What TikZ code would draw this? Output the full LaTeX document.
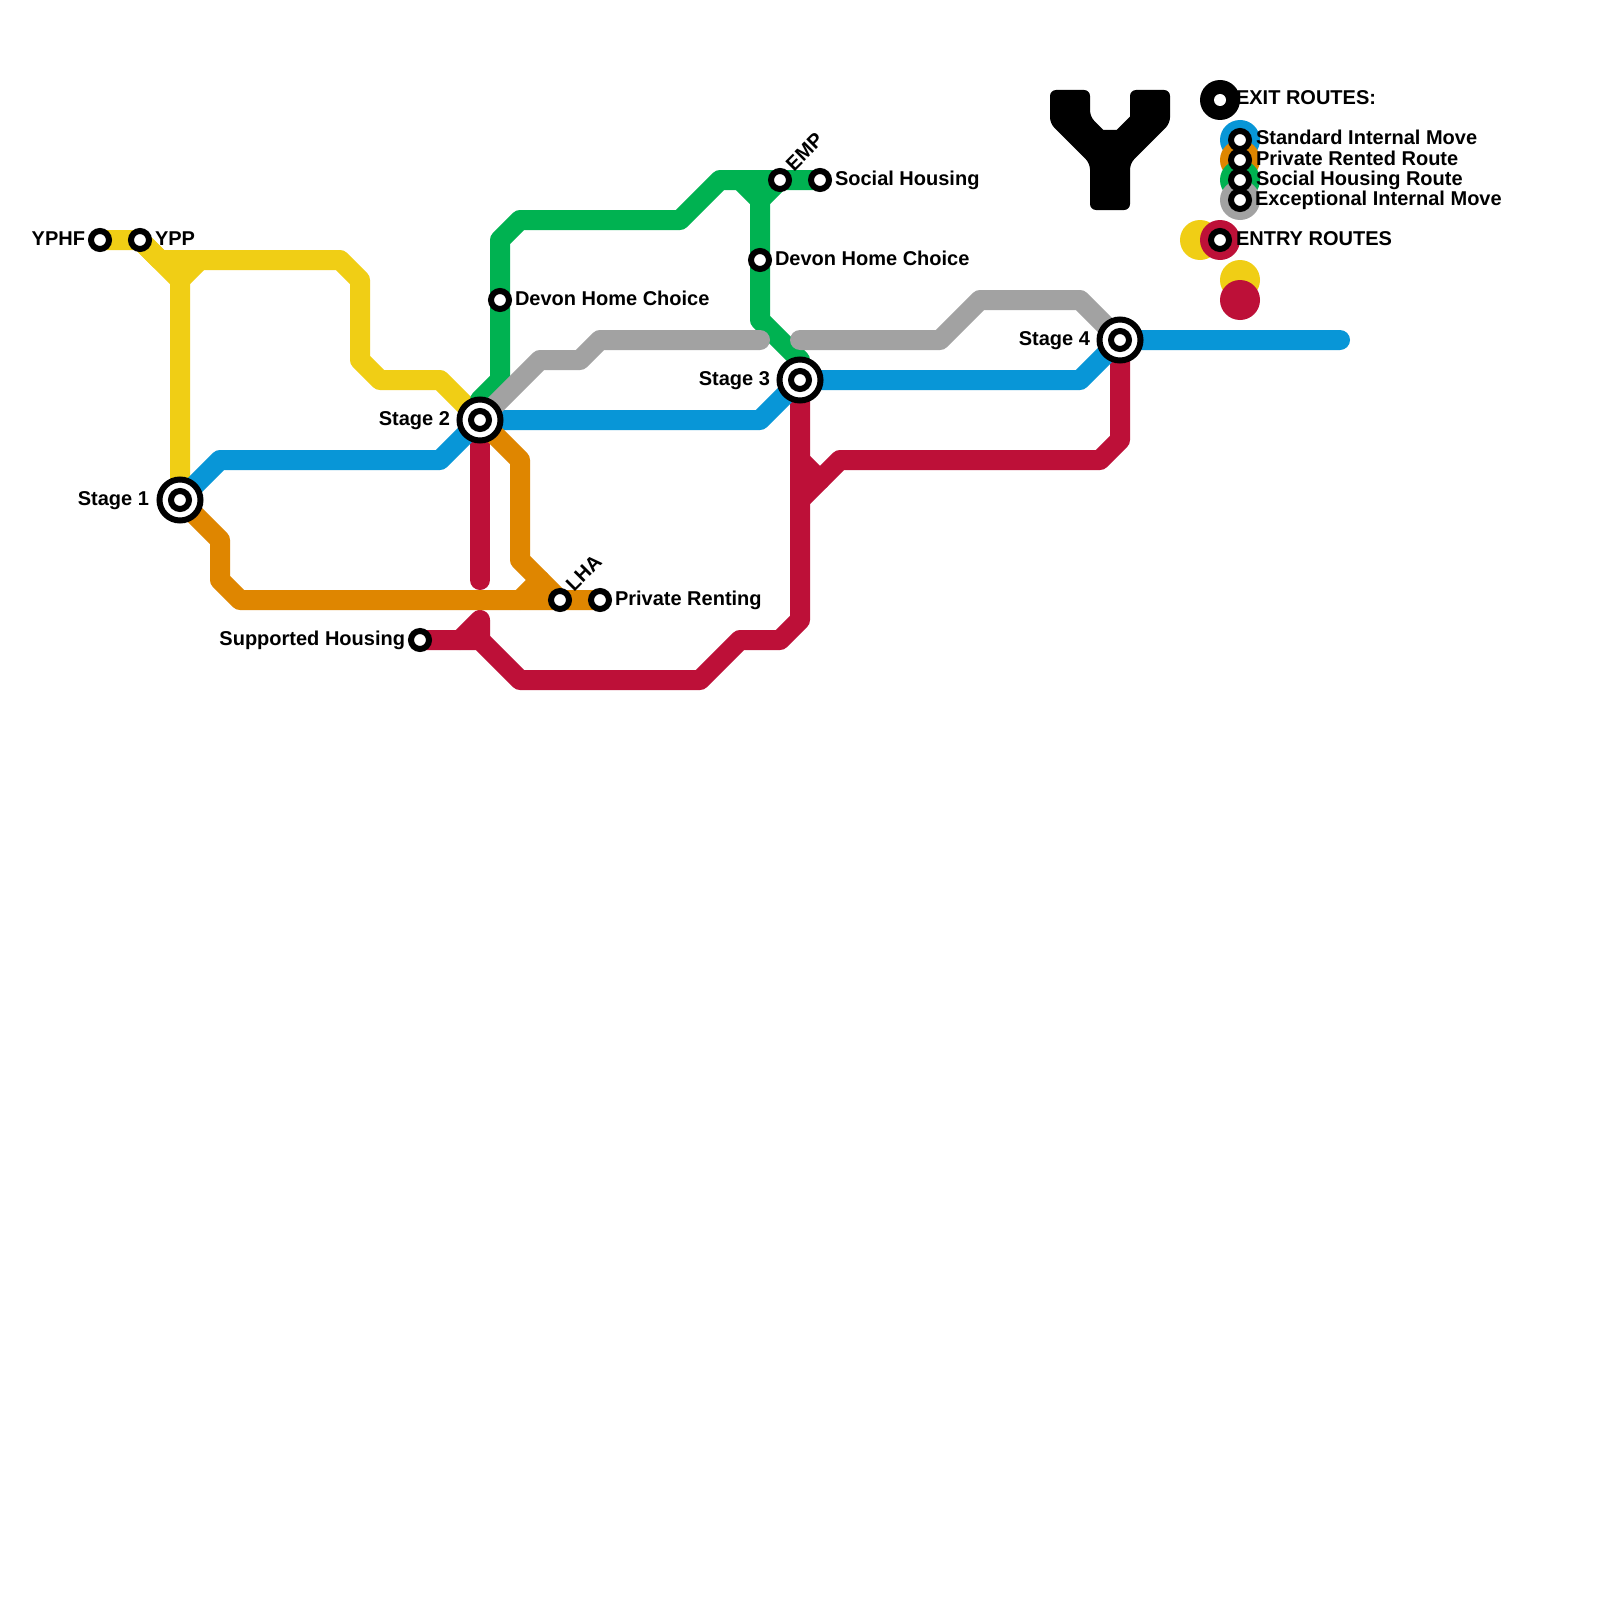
\documentclass[tikz,border=0pt]{standalone}
\usepackage{fontspec}
\setmainfont{Liberation Sans}
\pgfdeclarelayer{routes}
\pgfsetlayers{routes,main}
\definecolor{cyellow}{HTML}{F0CE15}
\definecolor{cblue}{HTML}{0896D7}
\definecolor{corange}{HTML}{DF8600}
\definecolor{cgreen}{HTML}{00B251}
\definecolor{cgray}{HTML}{A2A2A2}
\definecolor{cred}{HTML}{BD1038}
\tikzset{
  route/.style={line width=20pt,line cap=round,line join=round,draw=#1},
  smallst/.style={circle,draw=black,fill=white,line width=6pt,inner sep=0pt,outer sep=0pt,minimum size=18pt},
  bigst/.style={circle,draw=black,fill=white,line width=6pt,inner sep=0pt,outer sep=0pt,minimum size=41pt},
  legdot/.style={circle,fill=#1,inner sep=0pt,outer sep=0pt,minimum size=40pt},
  lab/.style={inner sep=0pt,outer sep=0pt,font=\bfseries\fontsize{20}{22}\selectfont,text=black},
  labw/.style={lab,anchor=base west},
  labe/.style={lab,anchor=base east},
  labr/.style={lab,anchor=base west,rotate=45}
}
\begin{document}
\begin{tikzpicture}[x=1pt,y=-1pt]
\useasboundingbox (0,0) rectangle (1600,1600);
% stations
\node[bigst] (s1) at (180,500) {};
\node[smallst] (s1i) at (180,500) {};
\node[bigst] (s2) at (480,420) {};
\node[smallst] (s2i) at (480,420) {};
\node[bigst] (s3) at (800,380) {};
\node[smallst] (s3i) at (800,380) {};
\node[bigst] (s4) at (1120,340) {};
\node[smallst] (s4i) at (1120,340) {};
\node[smallst] (yphf) at (100,240) {};
\node[smallst] (ypp) at (140,240) {};
\node[smallst] (dhc1) at (500,300) {};
\node[smallst] (dhc2) at (760,260) {};
\node[smallst] (emp) at (780,180) {};
\node[smallst] (soc) at (820,180) {};
\node[smallst] (lha) at (560,600) {};
\node[smallst] (prv) at (600,600) {};
\node[smallst] (sup) at (420,640) {};
\coordinate (blueend) at (1340,340);
\coordinate (redend) at (480,580);
\coordinate (redtop) at (480,620);
\coordinate (grayend1) at (760,340);
\coordinate (graystart2) at (800,340);
% routes
\begin{pgfonlayer}{routes}
\fill[white] (0,0) rectangle (1600,1600);
\draw[route=cyellow] (yphf.center) -- (ypp.center) -- (180,280) -- (s1.center);
\draw[route=cyellow] (ypp.center) -- (160,260) -- (340,260) -- (360,280) -- (360,360) -- (380,380) -- (440,380) -- (s2.center);
\draw[route=cyellow] (180,280) -- (200,260);
\draw[route=cred] (s2.center) -- (redend);
\draw[route=cred] (sup.center) -- (480,640) -- (520,680) -- (700,680) -- (740,640) -- (780,640) -- (800,620) -- (s3.center);
\draw[route=cred] (460,640) -- (redtop) -- (480,640);
\draw[route=cred] (800,460) -- (820,480);
\draw[route=cred] (800,500) -- (840,460) -- (1100,460) -- (1120,440) -- (s4.center);
\draw[route=cblue] (s1.center) -- (220,460) -- (440,460) -- (s2.center) -- (760,420) -- (s3.center) -- (1080,380) -- (s4.center) -- (blueend);
\draw[route=corange] (s1.center) -- (220,540) -- (220,580) -- (240,600) -- (prv.center);
\draw[route=corange] (s2.center) -- (520,460) -- (520,560) -- (lha.center);
\draw[route=corange] (520,600) -- (540,580);
\draw[route=cgreen] (s2.center) -- (480,400) -- (500,380) -- (500,240) -- (520,220) -- (680,220) -- (720,180) -- (soc.center);
\draw[route=cgreen] (740,180) -- (760,200) -- (760,320) -- (800,360) -- (s3.center);
\draw[route=cgreen] (760,200) -- (780,180);
\draw[route=cgray] (s2.center) -- (540,360) -- (580,360) -- (600,340) -- (grayend1);
\draw[route=cgray] (graystart2) -- (940,340) -- (980,300) -- (1080,300) -- (s4.center);
\end{pgfonlayer}
% Y logo
\fill[black,rounded corners=6pt] (1050,90) -- (1090,90) -- (1090,116.6) [sharp corners] -- (1103.4,130) -- (1116.6,130) -- (1130,116.6) [rounded corners=6pt] -- (1130,90) -- (1170,90) -- (1170,123.4) -- (1130,163.4) -- (1130,210) -- (1090,210) -- (1090,163.4) -- (1050,123.4) -- cycle;
% legend
\node[legdot=black] (legexit) at (1220,100) {};
\node[circle,fill=white,inner sep=0pt,outer sep=0pt,minimum size=12pt] (legexiti) at (1220,100) {};
\node[legdot=cblue] (lb) at (1240,140) {};
\node[legdot=corange] (lo) at (1240,160) {};
\node[legdot=cgreen] (lg) at (1240,180) {};
\node[legdot=cgray] (la) at (1240,200) {};
\node[smallst] (lbs) at (1240,140) {};
\node[smallst] (los) at (1240,160) {};
\node[smallst] (lgs) at (1240,180) {};
\node[smallst] (las) at (1240,200) {};
\node[legdot=cyellow] (ly1) at (1200,240) {};
\node[legdot=cred] (lr1) at (1220,240) {};
\node[smallst] (lr1s) at (1220,240) {};
\node[legdot=cyellow] (ly2) at (1240,280) {};
\node[legdot=cred] (lr2) at (1240,300) {};
% labels
\node[labe] (typhf) at (85,245) {YPHF};
\node[labw] (typp) at (155,245) {YPP};
\node[labe] (ts1) at (149,505) {Stage 1};
\node[labe] (ts2) at (450,425) {Stage 2};
\node[labe] (ts3) at (770,385) {Stage 3};
\node[labe] (ts4) at (1090,345) {Stage 4};
\node[labe] (tsup) at (405,645) {Supported Housing};
\node[labw] (tdhc1) at (515,305) {Devon Home Choice};
\node[labw] (tdhc2) at (775,265) {Devon Home Choice};
\node[labw] (tsoc) at (835,185) {Social Housing};
\node[labw] (tprv) at (615,605) {Private Renting};
\node[labr] (tlha) at (574,592) {LHA};
\node[labr] (temp) at (794,172) {EMP};
\node[labw] (texit) at (1236,105) {EXIT ROUTES:};
\node[labw] (tstd) at (1256,145) {Standard Internal Move};
\node[labw] (tpr) at (1256,165) {Private Rented Route};
\node[labw] (tsh) at (1256,185) {Social Housing Route};
\node[labw] (tex) at (1255,205) {Exceptional Internal Move};
\node[labw] (tentry) at (1236,245) {ENTRY ROUTES};
\end{tikzpicture}
\end{document}
